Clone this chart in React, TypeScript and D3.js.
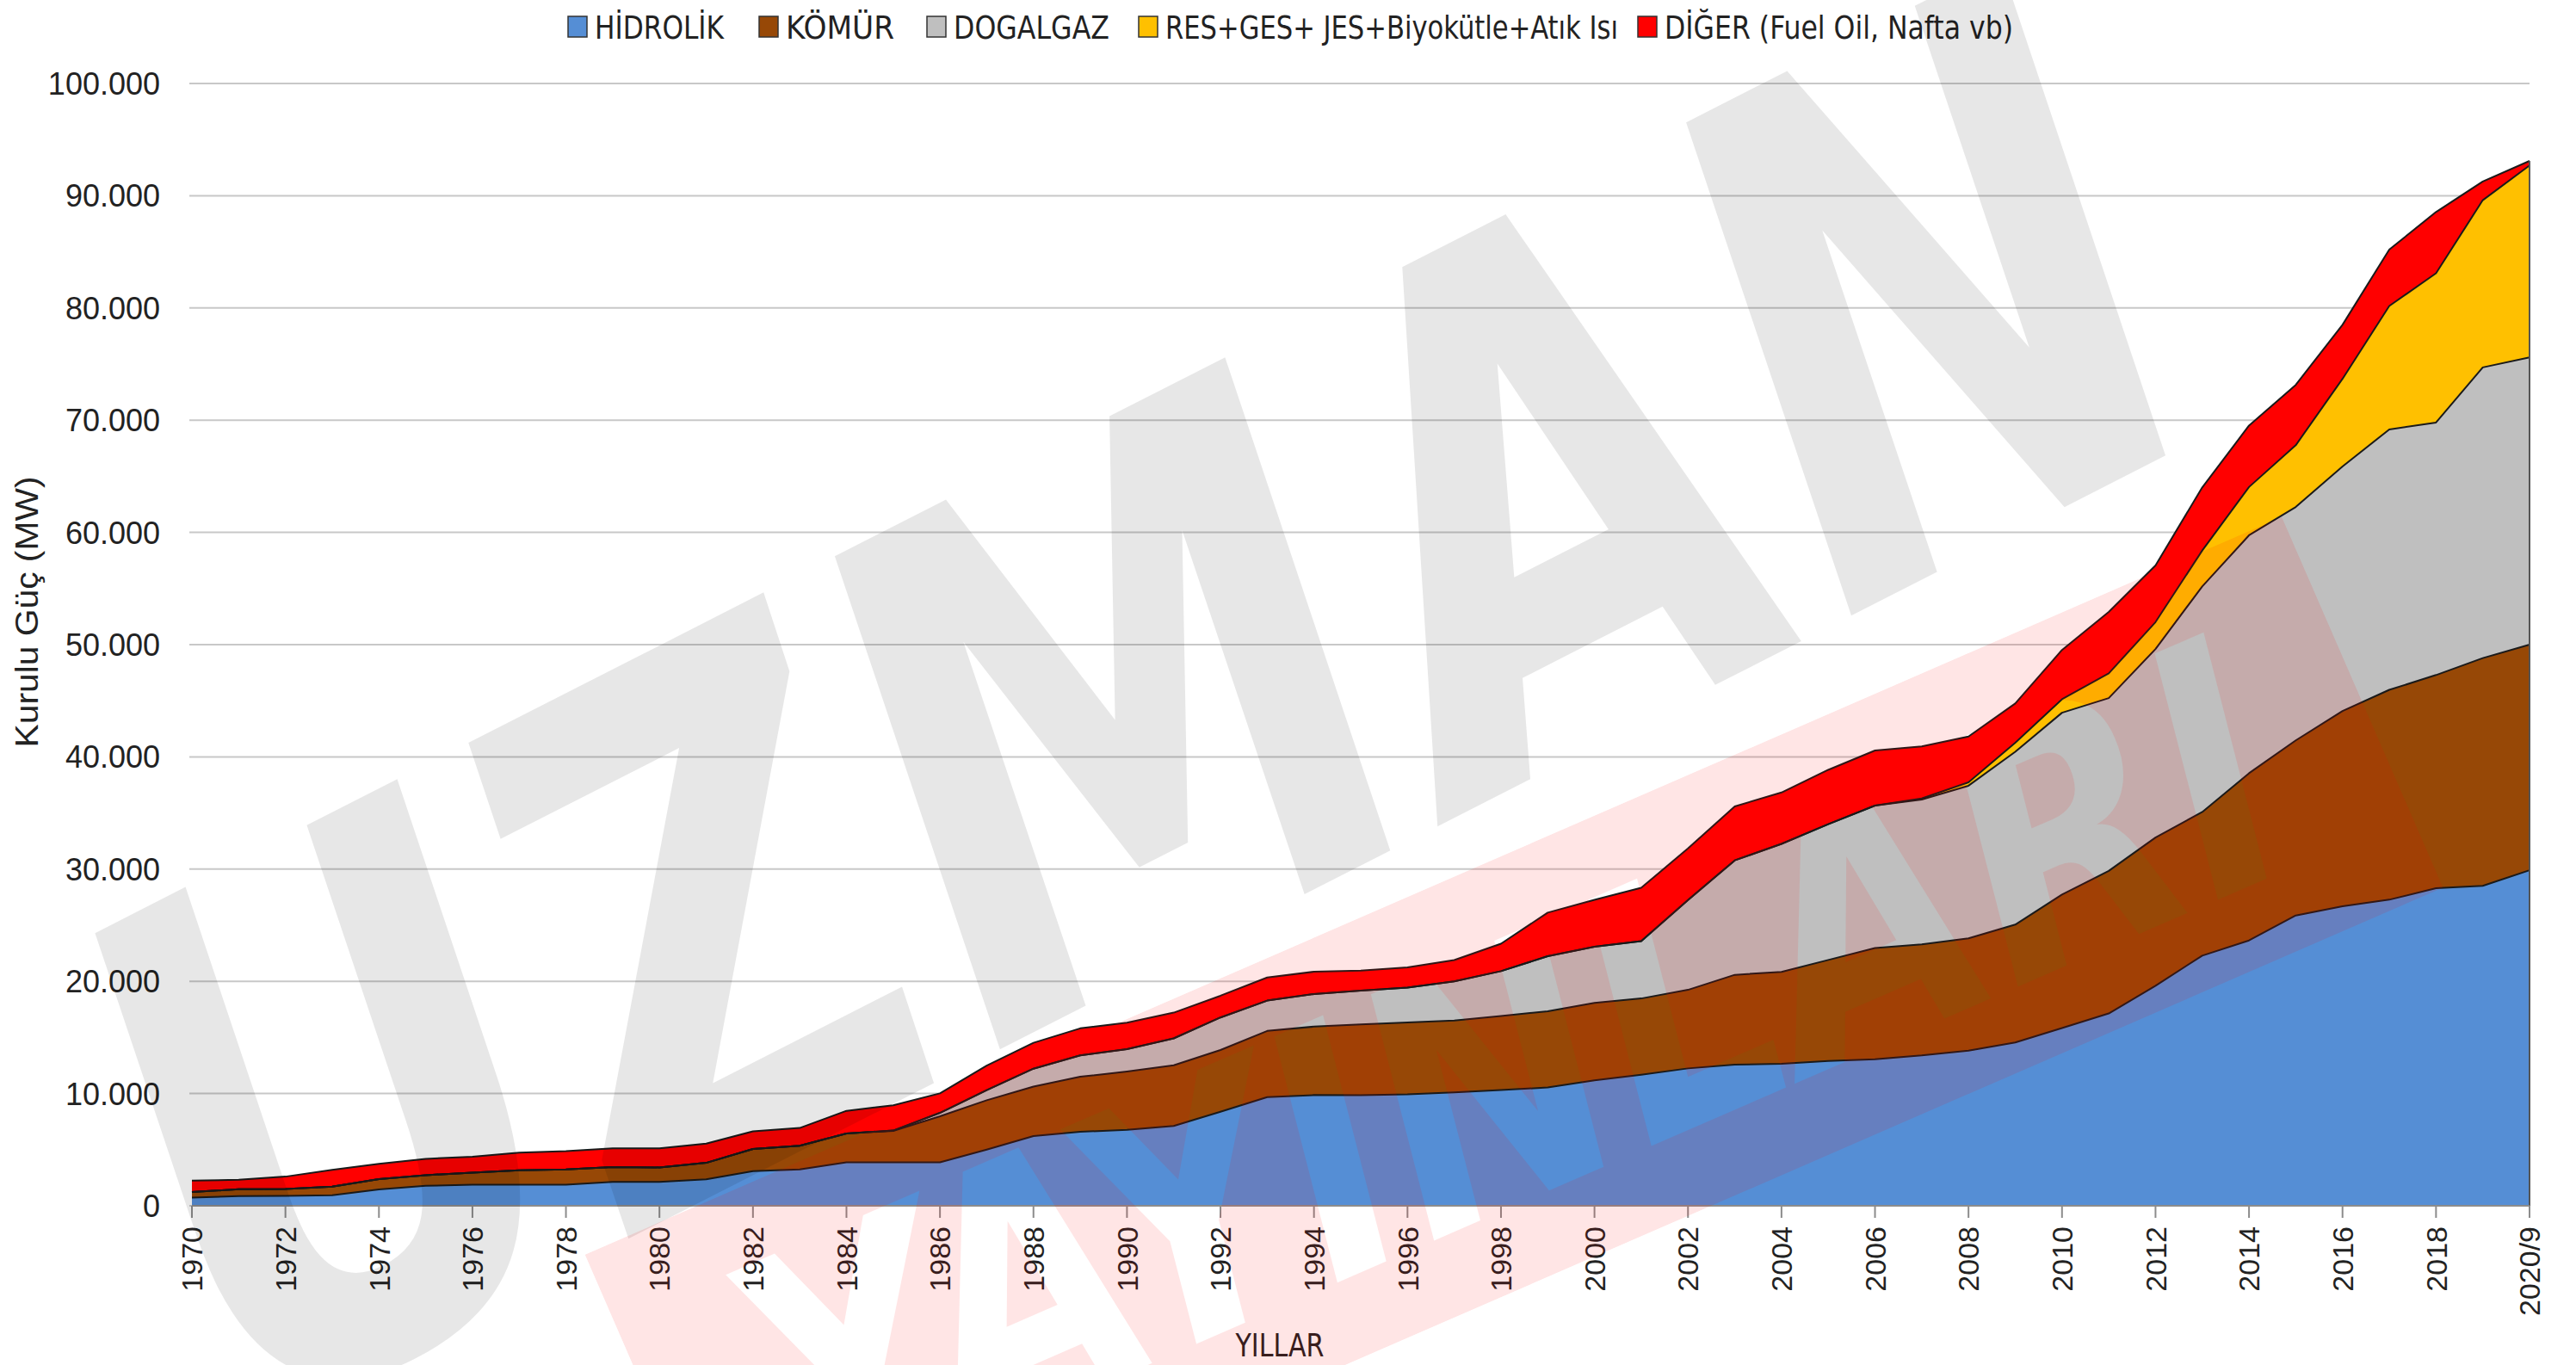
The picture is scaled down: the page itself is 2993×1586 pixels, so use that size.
import React from "react";
import * as d3 from "d3";

// yıllar (kategori)
const years = [
  "1970", "1971", "1972", "1973", "1974", "1975", "1976", "1977", "1978", "1979",
  "1980", "1981", "1982", "1983", "1984", "1985", "1986", "1987", "1988", "1989",
  "1990", "1991", "1992", "1993", "1994", "1995", "1996", "1997", "1998", "1999",
  "2000", "2001", "2002", "2003", "2004", "2005", "2006", "2007", "2008", "2009",
  "2010", "2011", "2012", "2013", "2014", "2015", "2016", "2017", "2018", "2019",
  "2020/9",
];

// kurulu güç, MW
const hidrolik = [
  725, 872, 878, 935, 1449, 1780, 1873, 1873, 1873, 2131,
  2131, 2356, 3082, 3239, 3875, 3875, 3878, 5003, 6218, 6597,
  6764, 7114, 8379, 9682, 9865, 9863, 9935, 10102, 10307, 10537,
  11175, 11673, 12241, 12579, 12645, 12906, 13063, 13395, 13829, 14553,
  15831, 17137, 19609, 22289, 23643, 25868, 26681, 27273, 28291, 28503,
  29900,
];
const komur = [
  510, 600, 620, 770, 930, 950, 1080, 1290, 1365, 1315,
  1290, 1470, 1985, 2110, 2570, 2800, 4100, 4400, 4400, 4900,
  5200, 5400, 5500, 5900, 6100, 6300, 6400, 6400, 6600, 6800,
  6900, 6800, 7000, 8000, 8200, 9000, 9900, 9900, 10000, 10500,
  11900, 12700, 13200, 12800, 14900, 15600, 17400, 18700, 19000, 20300,
  20100,
];
const dogalgaz = [
  0, 0, 0, 0, 0, 0, 0, 0, 0, 0,
  0, 0, 0, 0, 0, 30, 300, 900, 1600, 1900,
  2000, 2400, 2900, 2700, 2900, 3000, 3100, 3500, 4000, 4900,
  5000, 5100, 8000, 10200, 11400, 12100, 12700, 12900, 13600, 15400,
  16200, 15400, 16800, 20100, 21200, 20800, 21800, 23200, 22500, 25900,
  25600,
];
const yenilenebilir = [
  0, 0, 0, 0, 0, 0, 0, 0, 0, 0,
  0, 0, 0, 0, 0, 0, 0, 0, 0, 0,
  0, 0, 0, 0, 0, 0, 0, 0, 0, 0,
  0, 0, 0, 0, 0, 0, 0, 100, 300, 800,
  1200, 2200, 2400, 3200, 4300, 5500, 7800, 11000, 13300, 14900,
  17100,
];
const diger = [
  1000, 853, 1100, 1488, 1353, 1457, 1411, 1564, 1631, 1673,
  1698, 1712, 1572, 1586, 2017, 2245, 1737, 2192, 2303, 2411,
  2354, 2295, 1937, 2055, 1991, 1789, 1814, 1890, 2445, 3882,
  4189, 4759, 4600, 4808, 4579, 4838, 4902, 4641, 4088, 3508,
  4393, 5474, 5050, 5619, 5477, 5379, 4816, 5027, 5460, 1664,
  400,
];

const seriesNames = [
  "HİDROLİK",
  "KÖMÜR",
  "DOGALGAZ",
  "RES+GES+ JES+Biyokütle+Atık Isı",
  "DİĞER (Fuel Oil, Nafta vb)",
];
const seriesColors = ["#558ED5", "#974806", "#BFBFBF", "#FFC000", "#FF0000"];
const yTicks = [0, 10000, 20000, 30000, 40000, 50000, 60000, 70000, 80000, 90000, 100000];

const W = 2993;
const H = 1586;
const left = 223;
const right = 2939;
const top = 97;
const bottom = 1401;

const trLocale = d3.formatLocale({
  decimal: ",",
  thousands: ".",
  grouping: [3],
  currency: ["", ""],
});
const fmt = trLocale.format(",d");

export default function App() {
  const keys = ["h", "k", "d", "r", "o"];
  const rows = years.map((y, i) => ({
    year: y,
    h: hidrolik[i],
    k: komur[i],
    d: dogalgaz[i],
    r: yenilenebilir[i],
    o: diger[i],
  }));
  const stacked = d3.stack().keys(keys)(rows as any);

  const x = d3.scalePoint().domain(years).range([left, right]);
  const y = d3.scaleLinear().domain([0, 100000]).range([bottom, top]);

  const area = d3
    .area<any>()
    .x((d) => x(d.data.year) as number)
    .y0((d) => y(d[0]))
    .y1((d) => y(d[1]));
  const topLine = d3
    .line<any>()
    .x((d) => x(d.data.year) as number)
    .y((d) => y(d[1]));

  const tickYears = years.filter((_, i) => i % 2 === 0);

  // legend layout
  const legendX = [660, 882, 1077, 1323, 1903];
  const legendLen = [150, 126, 181, 526, 405];

  return (
    <svg
      width={W}
      height={H}
      style={{ position: "absolute", left: 0, top: 0, background: "#fff" }}
      fontFamily="'Liberation Sans', Arial, sans-serif"
    >
      <defs>
        <mask id="redMask">
          <rect x={-1100} y={-230} width={2150} height={470} fill="white" />
          <text
            x={-30}
            y={10}
            textAnchor="middle"
            dominantBaseline="central"
            fontSize={400}
            fontWeight="bold"
            fontStyle="italic"
            textLength={1900}
            lengthAdjust="spacingAndGlyphs"
            fill="black"
            fontFamily="'DejaVu Sans', sans-serif"
          >
            YAYINLARI
          </text>
        </mask>
      </defs>

      {/* grid */}
      {yTicks.map((t) => (
        <line
          key={"g" + t}
          x1={left - 3}
          x2={right}
          y1={y(t)}
          y2={y(t)}
          stroke="#C8C8C8"
          strokeWidth={2}
        />
      ))}

      {/* areas */}
      {stacked.map((s, i) => (
        <path key={"a" + i} d={area(s as any) as string} fill={seriesColors[i]} />
      ))}
      {stacked.map((s, i) => (
        <path
          key={"l" + i}
          d={topLine(s as any) as string}
          fill="none"
          stroke="#1a1a1a"
          strokeWidth={2}
          strokeLinejoin="round"
        />
      ))}
      <line
        x1={right}
        x2={right}
        y1={y(stacked[4][50][1])}
        y2={bottom}
        stroke="#555"
        strokeWidth={2}
      />

      {/* x axis */}
      <line x1={left} x2={right} y1={bottom} y2={bottom} stroke="#8C8C8C" strokeWidth={2} />
      {tickYears.map((t) => (
        <g key={"xt" + t} transform={`translate(${x(t)},${bottom})`}>
          <line y1={0} y2={14} stroke="#8C8C8C" strokeWidth={2} />
          <text
            transform="translate(0,24) rotate(-90)"
            textAnchor="end"
            dy="0.36em"
            fontSize={34}
            fill="#222"
          >
            {t}
          </text>
        </g>
      ))}

      {/* y axis labels */}
      {yTicks.map((t) => (
        <text
          key={"yt" + t}
          x={186}
          y={y(t)}
          dy="0.36em"
          textAnchor="end"
          fontSize={36}
          fill="#222"
        >
          {fmt(t)}
        </text>
      ))}

      {/* titles */}
      <text
        transform="translate(44,711) rotate(-90)"
        textAnchor="middle"
        fontSize={36}
        textLength={315}
        lengthAdjust="spacingAndGlyphs"
        fill="#222"
      >
        Kurulu Güç (MW)
      </text>
      <text
        x={1487}
        y={1576}
        textAnchor="middle"
        fontSize={37}
        textLength={103}
        lengthAdjust="spacingAndGlyphs"
        fontFamily="'Liberation Sans Narrow', 'DejaVu Sans Condensed', sans-serif"
        fill="#222"
      >
        YILLAR
      </text>

      {/* legend */}
      {seriesNames.map((n, i) => (
        <g key={"lg" + i}>
          <rect
            x={legendX[i]}
            y={19}
            width={22}
            height={24}
            fill={seriesColors[i]}
            stroke="#333"
            strokeWidth={1.5}
          />
          <text
            x={legendX[i] + 31}
            y={45}
            fontSize={38}
            textLength={legendLen[i]}
            lengthAdjust="spacingAndGlyphs"
            fontFamily="'Liberation Sans Narrow', 'DejaVu Sans Condensed', sans-serif"
            fill="#222"
          >
            {n}
          </text>
        </g>
      ))}

      {/* watermarks */}
      <g transform="translate(1320,820) rotate(-27)" pointerEvents="none">
        <text
          textAnchor="middle"
          dominantBaseline="central"
          fontSize={820}
          fontWeight="bold"
          fontStyle="italic"
          textLength={2600}
          lengthAdjust="spacingAndGlyphs"
          fill="#000"
          fillOpacity={0.095}
          fontFamily="'DejaVu Sans', sans-serif"
        >
          UZMAN
        </text>
      </g>
      <g transform="translate(1780,1230) rotate(-23.5)" pointerEvents="none">
        <rect
          x={-1100}
          y={-230}
          width={2150}
          height={470}
          fill="#FF0000"
          fillOpacity={0.1}
          mask="url(#redMask)"
        />
      </g>
    </svg>
  );
}
